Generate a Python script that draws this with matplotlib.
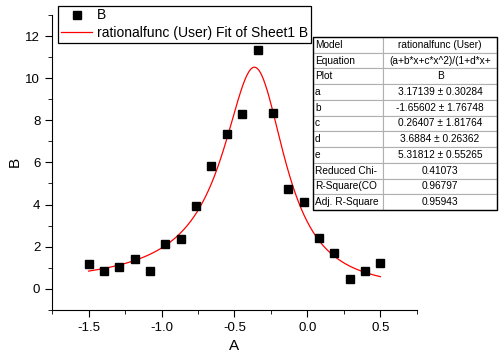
import numpy as np
import matplotlib
matplotlib.use("Agg")
import matplotlib.pyplot as plt
from matplotlib.patches import Rectangle

plt.rcParams['font.family'] = ['Liberation Sans', 'DejaVu Sans']
plt.rcParams['axes.unicode_minus'] = False

# measured points (column A, column B)
A = [-1.5, -1.395, -1.289, -1.184, -1.079, -0.974, -0.868, -0.763, -0.658, -0.553,
     -0.447, -0.342, -0.237, -0.132, -0.026, 0.079, 0.184, 0.289, 0.395, 0.5]
B = [1.17, 0.85, 1.05, 1.42, 0.85, 2.11, 2.35, 3.91, 5.82, 7.36,
     8.31, 11.33, 8.37, 4.73, 4.10, 2.40, 1.69, 0.46, 0.85, 1.21]

# fit parameters
a, b, c, d, e = 3.17139, -1.65602, 0.26407, 3.6884, 5.31812

table_rows = [
    ["Model", "rationalfunc (User)"],
    ["Equation", "(a+b*x+c*x^2)/(1+d*x+"],
    ["Plot", "B"],
    ["a", "3.17139 \u00b1 0.30284"],
    ["b", "-1.65602 \u00b1 1.76748"],
    ["c", "0.26407 \u00b1 1.81764"],
    ["d", "3.6884 \u00b1 0.26362"],
    ["e", "5.31812 \u00b1 0.55265"],
    ["Reduced Chi-", "0.41073"],
    ["R-Square(CO", "0.96797"],
    ["Adj. R-Square", "0.95943"],
]

fig = plt.figure(figsize=(5.01, 3.57), dpi=100)
ax = fig.add_axes([0.104, 0.132, 0.728, 0.826])

xf = np.linspace(A[0], A[-1], 300)
yf = (a + b * xf + c * xf**2) / (1 + d * xf + e * xf**2)

ax.plot(A, B, 's', color='black', ms=6, label='B', zorder=3)
ax.plot(xf, yf, '-', color='red', lw=0.9, label='rationalfunc (User) Fit of Sheet1 B')

ax.set_xlim(-1.75, 0.75)
ax.set_ylim(-1, 13)
ax.set_xticks([-1.5, -1.0, -0.5, 0.0, 0.5])
ax.set_xticks(np.arange(-1.75, 0.76, 0.25), minor=True)
ax.set_yticks([0, 2, 4, 6, 8, 10, 12])
ax.set_yticks(np.arange(-1, 13.1, 1), minor=True)
ax.tick_params(which='major', direction='out', length=5, labelsize=9.5)
ax.tick_params(which='minor', direction='out', length=3)
for s in ['top', 'right']:
    ax.spines[s].set_visible(False)
ax.set_xlabel('A', fontsize=11)
ax.set_ylabel('B', fontsize=11, labelpad=3)

leg = ax.legend(loc='upper left', bbox_to_anchor=(0.006, 1.046), fontsize=10,
                frameon=True, fancybox=False, edgecolor='black', framealpha=1,
                handlelength=2.2, handletextpad=0.4, borderpad=0.2,
                labelspacing=0.25, borderaxespad=0.3)
leg.get_frame().set_linewidth(0.9)

# results table
tax = fig.add_axes([313 / 501, 1 - 210 / 357, 184 / 501, 173 / 357])
tax.axis('off')
tbl = tax.table(cellText=table_rows, bbox=[0, 0, 1, 1], colWidths=[70, 114])
tbl.auto_set_font_size(False)
tbl.set_fontsize(7.3)
for (r, col), cell in tbl.get_celld().items():
    cell.set_edgecolor('#b0b0b0')
    cell.set_linewidth(0.8)
    if col == 0:
        cell.get_text().set_ha('left')
        cell.PAD = 0.03
    else:
        cell.get_text().set_ha('center')
tax.add_patch(Rectangle((0, 0), 1, 1, transform=tax.transAxes, fill=False,
                        edgecolor='black', lw=1.0, zorder=5, clip_on=False))

fig.savefig('out.png', dpi=100)
